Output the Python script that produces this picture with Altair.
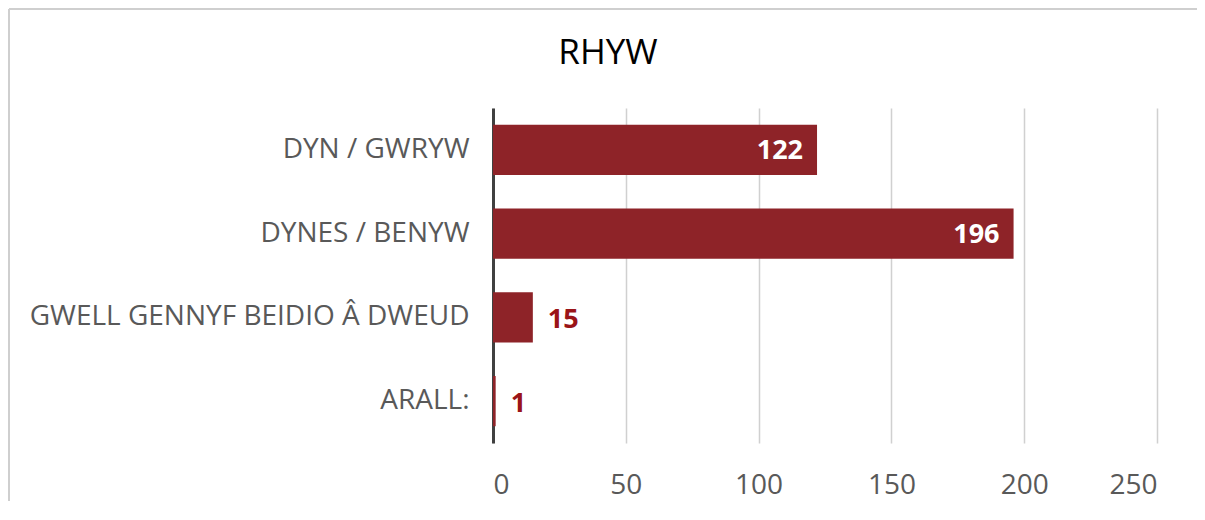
import altair as alt
import pandas as pd

title_text = "RHYW"
categories = ["DYN / GWRYW", "DYNES / BENYW", "GWELL GENNYF BEIDIO Â DWEUD", "ARALL:"]
values = [122, 196, 15, 1]
inside = [True, True, False, False]
tick_values = [0, 50, 100, 150, 200, 250]

df = pd.DataFrame({"cat": categories, "val": values, "inside": inside})
title_df = pd.DataFrame({"t": [title_text]})

FONT = "Open Sans"
BAR = "#8E2328"
LABEL_RED = "#9A1418"
BORDER = "#CFCFCF"

y_enc = alt.Y("cat:N", sort=categories, title=None,
              scale=alt.Scale(paddingInner=0.4, paddingOuter=0.2),
              axis=alt.Axis(labelFont=FONT, labelFontSize=28, labelColor="#595959",
                            labelPadding=24, ticks=False, domain=True,
                            domainColor="#404040", domainWidth=3,
                            labelLimit=600, grid=False))
x_enc = alt.X("val:Q", title=None,
              scale=alt.Scale(domain=[0, 250], nice=False),
              axis=alt.Axis(values=tick_values, labelFont=FONT, labelFontSize=28,
                            labelColor="#595959", ticks=False, domain=False,
                            grid=True, gridColor="#D0D0D0", gridWidth=1.5,
                            labelPadding=28))

bars = alt.Chart(df).mark_bar(color=BAR).encode(x=x_enc, y=y_enc)

lab_in = alt.Chart(df).transform_filter("datum.inside").mark_text(
    align="right", dx=-14, dy=1, font=FONT, fontSize=27, fontWeight="bold", color="white"
).encode(x="val:Q", y=alt.Y("cat:N", sort=categories), text="val:Q")

lab_out = alt.Chart(df).transform_filter("!datum.inside").mark_text(
    align="left", dx=15, dy=3, font=FONT, fontSize=27, fontWeight="bold", color=LABEL_RED
).encode(x="val:Q", y=alt.Y("cat:N", sort=categories), text="val:Q")

title_mark = alt.Chart(title_df).mark_text(
    align="center", baseline="alphabetic", font=FONT, fontSize=35, color="#000000"
).encode(x=alt.value(115), y=alt.value(-44), text="t:N")

border_top = alt.Chart(title_df).mark_rule(color=BORDER, strokeWidth=2).encode(
    x=alt.value(-484), x2=alt.value(704), y=alt.value(-99))
border_left = alt.Chart(title_df).mark_rule(color=BORDER, strokeWidth=2).encode(
    x=alt.value(-484), y=alt.value(-99), y2=alt.value(400))

chart = alt.layer(bars, lab_in, lab_out, title_mark, border_top, border_left).properties(
    width=664, height=335,
    background="white",
    autosize=alt.AutoSizeParams(type="none"),
    padding={"left": 485, "top": 100, "right": 40, "bottom": 58},
).configure_view(stroke="transparent", strokeWidth=0)

chart.save("out.html", embed_options={"renderer": "svg", "actions": False})
